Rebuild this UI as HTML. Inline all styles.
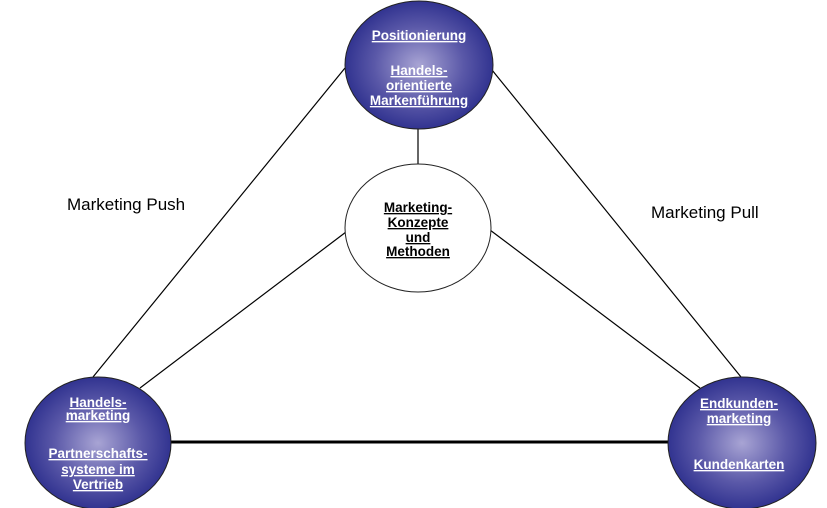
<!DOCTYPE html>
<html><head><meta charset="utf-8"><style>
html,body{margin:0;padding:0;background:#fff;width:827px;height:508px;overflow:hidden}
svg text{font-family:"Liberation Sans",Arial,sans-serif;font-weight:bold;font-size:13.5px;text-anchor:middle;text-decoration:underline}
</style></head><body>
<svg width="827" height="508" viewBox="0 0 827 508" xmlns="http://www.w3.org/2000/svg">
<defs>
<radialGradient id="g" cx="50%" cy="50%" r="55%">
<stop offset="0" stop-color="#a8a4d4"/>
<stop offset="0.55" stop-color="#5a58a8"/>
<stop offset="1" stop-color="#272a8a"/>
</radialGradient>
</defs>
<g stroke="#000" stroke-width="1.2" fill="none">
<line x1="93" y1="377" x2="345" y2="68"/>
<line x1="140" y1="388" x2="346" y2="232"/>
<line x1="492" y1="70" x2="741" y2="377"/>
<line x1="490" y1="230" x2="700" y2="388"/>
<line x1="418" y1="128" x2="418" y2="164"/>
</g>
<line x1="170" y1="442" x2="670" y2="442" stroke="#000" stroke-width="3"/>
<ellipse cx="419" cy="65" rx="74" ry="64" fill="url(#g)" stroke="#222" stroke-width="1"/>
<ellipse cx="418" cy="228" rx="73" ry="64" fill="#fff" stroke="#222" stroke-width="1"/>
<ellipse cx="98" cy="443" rx="73" ry="66" fill="url(#g)" stroke="#222" stroke-width="1"/>
<ellipse cx="742" cy="443" rx="74" ry="66" fill="url(#g)" stroke="#222" stroke-width="1"/>
<g fill="#fff">
<text x="419" y="40">Positionierung</text>
<text x="419" y="75">Handels-</text>
<text x="419" y="90">orientierte</text>
<text x="419" y="105">Markenführung</text>
<text x="98" y="407">Handels-</text>
<text x="98" y="420">marketing</text>
<text x="98" y="458">Partnerschafts-</text>
<text x="98" y="474">systeme im</text>
<text x="98" y="489">Vertrieb</text>
<text x="739" y="408">Endkunden-</text>
<text x="739" y="423">marketing</text>
<text x="739" y="469">Kundenkarten</text>
</g>
<g fill="#000">
<text x="418" y="212">Marketing-</text>
<text x="418" y="227">Konzepte</text>
<text x="418" y="242">und </text>
<text x="418" y="256">Methoden</text>
</g>
<text x="67" y="210" fill="#000" style="font-weight:normal;text-decoration:none;font-size:17px;text-anchor:start">Marketing Push</text>
<text x="651" y="218" fill="#000" style="font-weight:normal;text-decoration:none;font-size:17px;text-anchor:start">Marketing Pull</text>
</svg>
</body></html>
